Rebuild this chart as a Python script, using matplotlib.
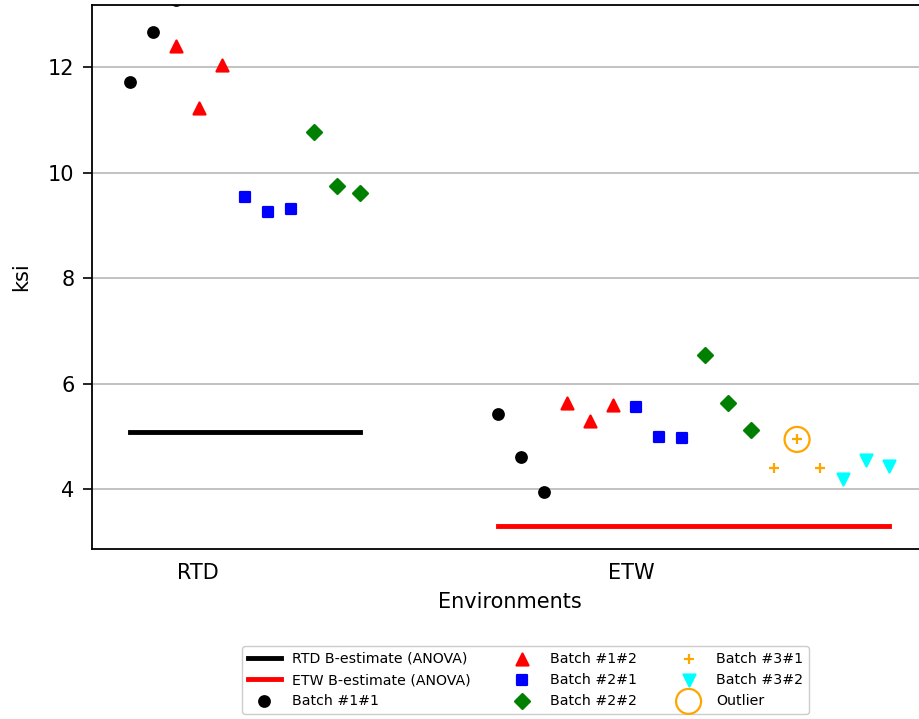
import numpy as np
import matplotlib.pyplot as plt

# valeurs (ksi)
rtd_b11 = [11.72, 12.66, 13.265]
rtd_b12 = [12.41, 11.22, 12.05]
rtd_b21 = [9.53, 9.25, 9.31]
rtd_b22 = [10.77, 9.74, 9.61]

etw_b11 = [5.42, 4.61, 3.95]
etw_b12 = [5.64, 5.29, 5.59]
etw_b21 = [5.56, 4.99, 4.97]
etw_b22 = [6.55, 5.64, 5.12]
etw_b31 = [4.39, 4.94, 4.40]
etw_b32 = [4.19, 4.55, 4.44]

rtd_best = 5.09
etw_best = 3.29
outlier = 4.94

environments = ['RTD', 'ETW']
labels = ['Batch #1#1', 'Batch #1#2', 'Batch #2#1', 'Batch #2#2',
          'Batch #3#1', 'Batch #3#2']

styles = [('o', 'black'), ('^', 'red'), ('s', 'blue'), ('D', 'green'),
          ('+', 'orange'), ('v', 'cyan')]

rtd_data = [rtd_b11, rtd_b12, rtd_b21, rtd_b22]
etw_data = [etw_b11, etw_b12, etw_b21, etw_b22, etw_b31, etw_b32]

# indices de depart de chaque batch sur l'axe x
rtd_start = [0, 2, 5, 8]
etw_start = [16 + 3*k for k in range(6)]

fig = plt.figure(figsize=(9.19, 7.19), dpi=100)
ax = fig.add_axes([0.1001, 0.2368, 0.9099, 0.7563])

ax.plot([0, 10], [rtd_best, rtd_best], color='black', lw=3.5,
        label='RTD B-estimate (ANOVA)')
ax.plot([16, 33], [etw_best, etw_best], color='red', lw=3.5,
        label='ETW B-estimate (ANOVA)')

ms = 7.6
for k, (m, c) in enumerate(styles):
    xs, ys = [], []
    if k < len(rtd_data):
        xs += list(rtd_start[k] + np.arange(len(rtd_data[k])))
        ys += rtd_data[k]
    xs += list(etw_start[k] + np.arange(len(etw_data[k])))
    ys += etw_data[k]
    size = (ms + 1.0)**2 if m in '^v' else ms**2
    ax.scatter(xs, ys, marker=m, color=c, s=size, linewidths=1.6,
               label=labels[k], zorder=3)

ax.scatter([etw_start[4] + 1], [outlier], marker='o', s=18**2,
           facecolors='none', edgecolors='orange', linewidths=1.6,
           label='Outlier', zorder=3)

ax.set_xlim(-1.652, 34.70)
ax.set_ylim(2.867, 13.18)
ax.set_xticks([2.95, 21.8])
ax.set_xticklabels(environments)
ax.set_yticks([4, 6, 8, 10, 12])
ax.tick_params(axis='x', length=0, pad=10.5, labelsize=15)
ax.tick_params(axis='y', length=6.5, width=1.2, pad=6, labelsize=15)
ax.yaxis.grid(True, color='#b8b8b8', lw=1.2)
ax.set_axisbelow(True)
for s in ax.spines.values():
    s.set_linewidth(1.3)
ax.set_xlabel('Environments', fontsize=15, labelpad=6)
ax.set_ylabel('ksi', fontsize=15, labelpad=12)

fig.legend(loc='upper center', bbox_to_anchor=(0.572, 0.111), ncol=3,
           fontsize=10.2, columnspacing=2.5, handlelength=2.3,
           framealpha=1, edgecolor='#cccccc')

plt.savefig('out.png', dpi=100)
